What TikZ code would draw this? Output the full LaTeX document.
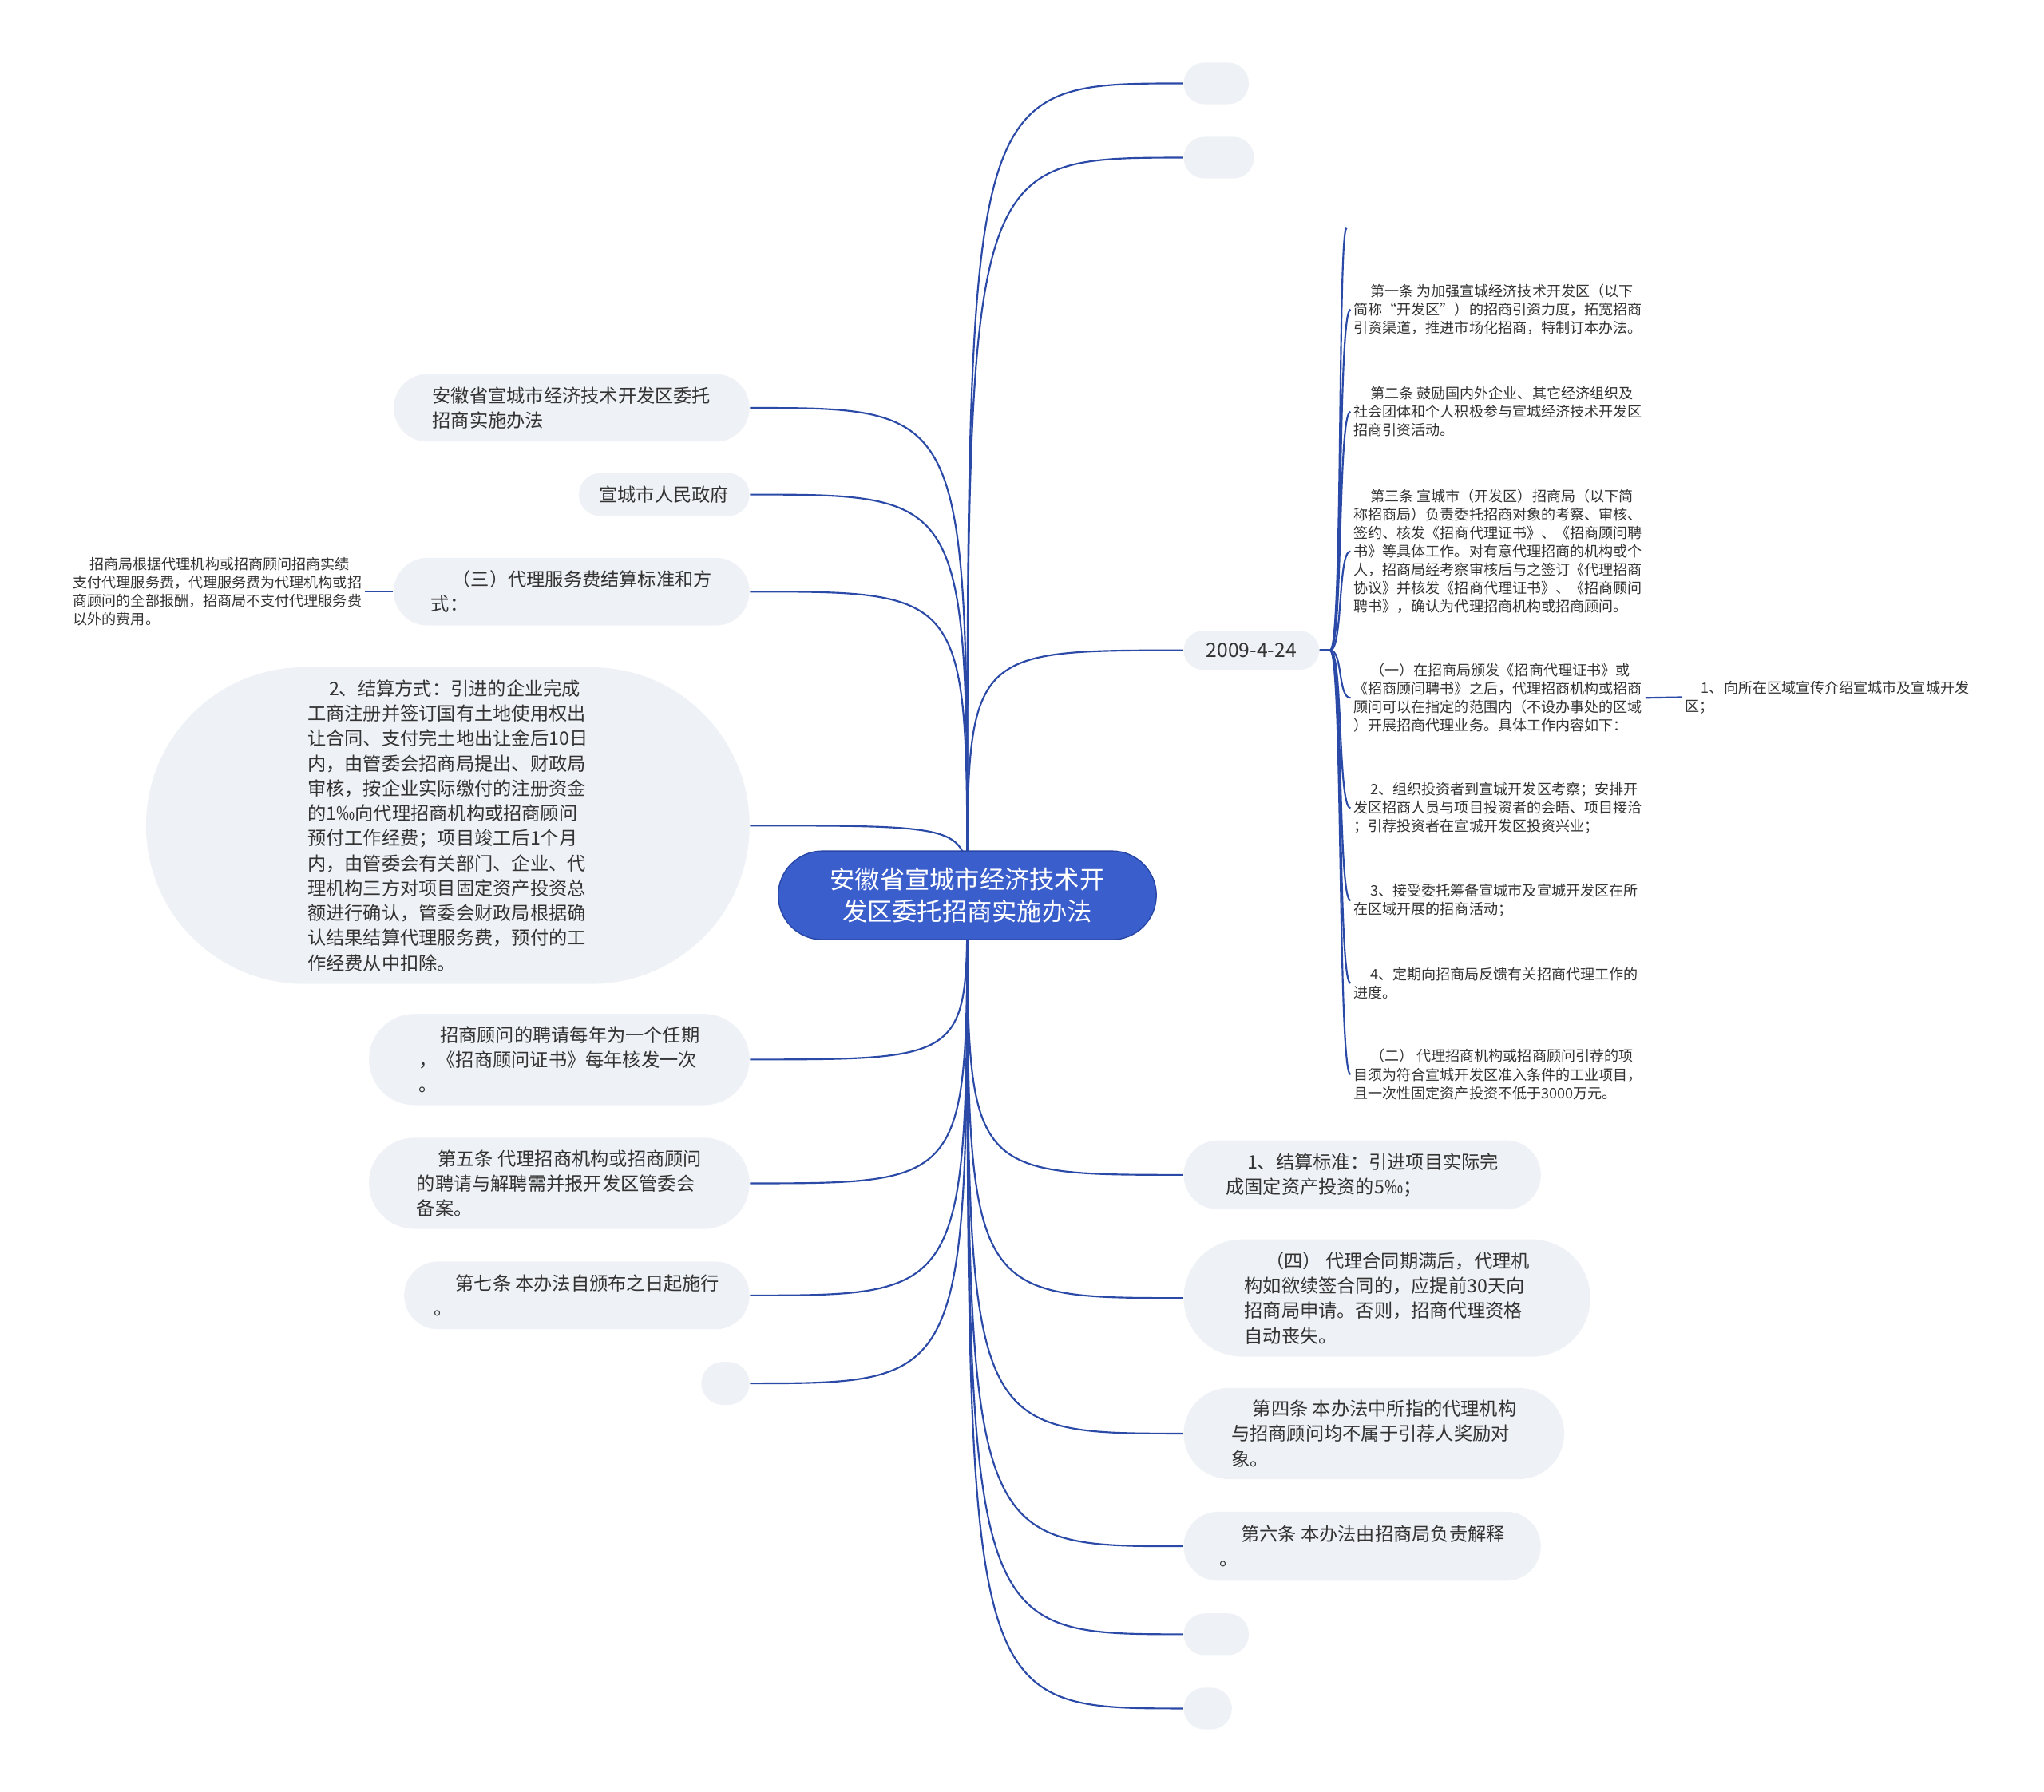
\documentclass[tikz,border=0pt]{standalone}
\usepackage{fontspec}
\setmainfont{Noto Sans CJK SC}
\usepackage{tikz}
\usetikzlibrary{shapes,backgrounds}
\definecolor{lien}{RGB}{43,74,168}
\definecolor{racine}{RGB}{58,94,204}
\definecolor{bordracine}{RGB}{40,70,165}
\definecolor{fond}{RGB}{238,241,245}
\definecolor{texte}{RGB}{51,51,51}
\newcommand{\pxlen}{0.02cm}
\newcommand{\ind}{\hspace*{1.15em}}
\newcommand{\fontracine}{\fontsize{10.9pt}{14.2pt}\selectfont}
\newcommand{\fontsujet}{\fontsize{8.1pt}{10.9pt}\selectfont}
\newcommand{\fontdate}{\fontsize{8.6pt}{10.9pt}\selectfont}
\newcommand{\fontpetit}{\fontsize{6.3pt}{8.05pt}\selectfont}
\tikzset{
	sujet/.style={rectangle,fill=fond,text=texte,align=left,inner sep=0pt,font=\fontsujet},
	taille/.style 2 args={minimum width=#1*\pxlen,minimum height=#2*\pxlen,rounded corners=#2*0.01cm},
	note/.style={text=texte,align=left,inner sep=1.2pt,font=\fontpetit},
	lien/.style={draw=lien,line width=0.75pt}
}

\begin{document}
\begin{tikzpicture}[x=\pxlen,y=-\pxlen]
		\useasboundingbox (0,0) rectangle (1568,1375);
		%racine
		\node[rectangle,fill=racine,draw=bordracine,line width=0.5pt,text=white,align=center,font=\fontracine,inner sep=0pt,taille={290}{68}] (root) at (742,687) {安徽省宣城市经济技术开\\发区委托招商实施办法};
		%branches droite
		\node[sujet,taille={50}{32}] (r1) at (933,64) {};
		\node[sujet,taille={54}{32}] (r2) at (935,121) {};
		\node[sujet,taille={104}{30},font=\fontdate] (date) at (960,499) {2009-4-24};
		\node[sujet,taille={274}{53}] (r4) at (1045,901.5) {\ind 1、结算标准：引进项目实际完\\成固定资产投资的5‰；};
		\node[sujet,taille={312}{90}] (r5) at (1064,996) {\ind （四） 代理合同期满后，代理机\\构如欲续签合同的，应提前30天向\\招商局申请。否则，招商代理资格\\自动丧失。};
		\node[sujet,taille={292}{70}] (r6) at (1054,1100) {\ind 第四条 本办法中所指的代理机构\\与招商顾问均不属于引荐人奖励对\\象。};
		\node[sujet,taille={274}{53}] (r7) at (1045,1186.5) {\ind 第六条 本办法由招商局负责解释\\。};
		\node[sujet,taille={50}{32}] (r8) at (933,1254) {};
		\node[sujet,taille={37}{32}] (r9) at (926.5,1311) {};
		%branches gauche
		\node[sujet,taille={273}{52}] (l1) at (438.5,313) {安徽省宣城市经济技术开发区委托\\招商实施办法};
		\node[sujet,taille={131}{33}] (l2) at (509.5,379.5) {宣城市人民政府};
		\node[sujet,taille={273}{52}] (l3) at (438.5,454) {\ind （三）代理服务费结算标准和方\\式：};
		\node[sujet,taille={463}{243}] (l4) at (343.5,633.5) {\ind 2、结算方式：引进的企业完成\\工商注册并签订国有土地使用权出\\让合同、支付完土地出让金后10日\\内，由管委会招商局提出、财政局\\审核，按企业实际缴付的注册资金\\的1‰向代理招商机构或招商顾问\\预付工作经费；项目竣工后1个月\\内，由管委会有关部门、企业、代\\理机构三方对项目固定资产投资总\\额进行确认，管委会财政局根据确\\认结果结算代理服务费，预付的工\\作经费从中扣除。};
		\node[sujet,taille={292}{70}] (l5) at (429,813) {\ind 招商顾问的聘请每年为一个任期\\，《招商顾问证书》每年核发一次\\。};
		\node[sujet,taille={292}{70}] (l6) at (429,908) {\ind 第五条 代理招商机构或招商顾问\\的聘请与解聘需并报开发区管委会\\备案。};
		\node[sujet,taille={265}{52}] (l7) at (442.5,994) {\ind 第七条 本办法自颁布之日起施行\\。};
		\node[sujet,taille={37}{33}] (l8) at (556.5,1061.5) {};
		%note (三)
		\node[note,anchor=east] (l3c) at (280,454) {\ind 招商局根据代理机构或招商顾问招商实绩\\支付代理服务费，代理服务费为代理机构或招\\商顾问的全部报酬，招商局不支付代理服务费\\以外的费用。};
		%articles sous la date
		\coordinate (d0) at (1033,175);
		\node[note,anchor=west] (d1) at (1036,237.5) {\ind 第一条 为加强宣城经济技术开发区（以下\\简称“开发区”）的招商引资力度，拓宽招商\\引资渠道，推进市场化招商，特制订本办法。};
		\node[note,anchor=west] (d2) at (1036,316) {\ind 第二条 鼓励国内外企业、其它经济组织及\\社会团体和个人积极参与宣城经济技术开发区\\招商引资活动。};
		\node[note,anchor=west] (d3) at (1036,423) {\ind 第三条 宣城市（开发区）招商局（以下简\\称招商局）负责委托招商对象的考察、审核、\\签约、核发《招商代理证书》、《招商顾问聘\\书》等具体工作。对有意代理招商的机构或个\\人，招商局经考察审核后与之签订《代理招商\\协议》并核发《招商代理证书》、《招商顾问\\聘书》，确认为代理招商机构或招商顾问。};
		\node[note,anchor=west] (d4) at (1036,535.5) {\ind （一）在招商局颁发《招商代理证书》或\\《招商顾问聘书》之后，代理招商机构或招商\\顾问可以在指定的范围内（不设办事处的区域\\）开展招商代理业务。具体工作内容如下：};
		\node[note,anchor=west] (d4c) at (1290,535) {\ind 1、向所在区域宣传介绍宣城市及宣城开发\\区；};
		\node[note,anchor=west] (d5) at (1036,620) {\ind 2、组织投资者到宣城开发区考察；安排开\\发区招商人员与项目投资者的会晤、项目接洽\\；引荐投资者在宣城开发区投资兴业；};
		\node[note,anchor=west] (d6) at (1036,691) {\ind 3、接受委托筹备宣城市及宣城开发区在所\\在区域开展的招商活动；};
		\node[note,anchor=west] (d7) at (1036,754.5) {\ind 4、定期向招商局反馈有关招商代理工作的\\进度。};
		\node[note,anchor=west] (d8) at (1036,824.5) {\ind （二） 代理招商机构或招商顾问引荐的项\\目须为符合宣城开发区准入条件的工业项目，\\且一次性固定资产投资不低于3000万元。};
		%liens
		\begin{scope}[on background layer]
		\draw[lien] (root.center) .. controls (root.center |- r1.west) .. (r1.west);
		\draw[lien] (root.center) .. controls (root.center |- r2.west) .. (r2.west);
		\draw[lien] (root.center) .. controls (root.center |- date.west) .. (date.west);
		\draw[lien] (root.center) .. controls (root.center |- r4.west) .. (r4.west);
		\draw[lien] (root.center) .. controls (root.center |- r5.west) .. (r5.west);
		\draw[lien] (root.center) .. controls (root.center |- r6.west) .. (r6.west);
		\draw[lien] (root.center) .. controls (root.center |- r7.west) .. (r7.west);
		\draw[lien] (root.center) .. controls (root.center |- r8.west) .. (r8.west);
		\draw[lien] (root.center) .. controls (root.center |- r9.west) .. (r9.west);
		\draw[lien] (root.center) .. controls (root.center |- l1.east) .. (l1.east);
		\draw[lien] (root.center) .. controls (root.center |- l2.east) .. (l2.east);
		\draw[lien] (root.center) .. controls (root.center |- l3.east) .. (l3.east);
		\draw[lien] (root.center) .. controls (root.center |- l4.east) .. (l4.east);
		\draw[lien] (root.center) .. controls (root.center |- l5.east) .. (l5.east);
		\draw[lien] (root.center) .. controls (root.center |- l6.east) .. (l6.east);
		\draw[lien] (root.center) .. controls (root.center |- l7.east) .. (l7.east);
		\draw[lien] (root.center) .. controls (root.center |- l8.east) .. (l8.east);
		\draw[lien] (l3.west) -- (l3c.east);
		%liens de la date
		\draw[lien] (date.east) -- ++(8,0) .. controls +(10,0) and +(-7,0) .. (d0);
		\draw[lien] (date.east) -- ++(8,0) .. controls +(10,0) and +(-10,0) .. (d1.west);
		\draw[lien] (date.east) -- ++(8,0) .. controls +(10,0) and +(-10,0) .. (d2.west);
		\draw[lien] (date.east) -- ++(8,0) .. controls +(10,0) and +(-10,0) .. (d3.west);
		\draw[lien] (date.east) -- ++(8,0) .. controls +(10,0) and +(-10,0) .. (d4.west);
		\draw[lien] (date.east) -- ++(8,0) .. controls +(10,0) and +(-10,0) .. (d5.west);
		\draw[lien] (date.east) -- ++(8,0) .. controls +(10,0) and +(-10,0) .. (d6.west);
		\draw[lien] (date.east) -- ++(8,0) .. controls +(10,0) and +(-10,0) .. (d7.west);
		\draw[lien] (date.east) -- ++(8,0) .. controls +(10,0) and +(-10,0) .. (d8.west);
		\draw[lien] (d4.east) -- (d4c.west);
		\end{scope}
	\end{tikzpicture}
\end{document}
